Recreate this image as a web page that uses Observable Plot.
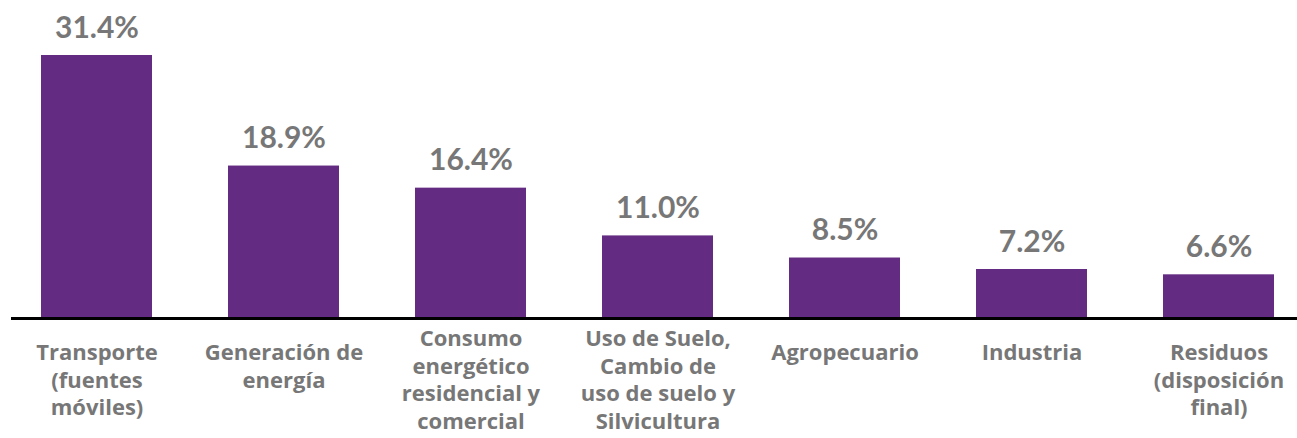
<!DOCTYPE html>
<html>
<head>
<meta charset="utf-8">
<script src="https://cdn.jsdelivr.net/npm/d3@7"></script>
<script src="https://cdn.jsdelivr.net/npm/@observablehq/plot@0.6"></script>
<style>
  html, body { margin: 0; padding: 0; background: #ffffff; }
  #chart svg { display: block; }
</style>
</head>
<body>
<div id="chart"></div>
<script>
const categories = ["Transporte", "Generación", "Consumo", "Uso de Suelo", "Agropecuario", "Industria", "Residuos"];
const values = [31.4, 18.9, 16.4, 11.0, 8.5, 7.2, 6.6];
const tickLabels = [
  "Transporte\n(fuentes\nmóviles)",
  "Generación de\nenergía",
  "Consumo\nenergético\nresidencial y\ncomercial",
  "Uso de Suelo,\nCambio de\nuso de suelo y\nSilvicultura",
  "Agropecuario",
  "Industria",
  "Residuos\n(disposición\nfinal)"
];
// lower bound of the value axis as drawn in the original (bars do not start at 0)
const yFloor = 1.66;

const data = categories.map((c, i) => ({
  cat: c, value: values[i], label: tickLabels[i],
  lines: tickLabels[i].split("\n").length
}));

const purple = "#632c82";
const grey = "#777777";

const chart = Plot.plot({
  width: 1297,
  height: 438,
  marginTop: 55,
  marginBottom: 120,
  marginLeft: 11,
  marginRight: 0,
  style: { fontFamily: "Lato, sans-serif", background: "#ffffff" },
  x: { domain: categories, paddingInner: 0.408, paddingOuter: 0.1315, align: 0.568, axis: null },
  y: { domain: [yFloor, d3.max(values)], axis: null, clamp: true },
  marks: [
    Plot.barY(data, { x: "cat", y1: yFloor, y2: "value", fill: purple }),
    Plot.ruleY([yFloor], { stroke: "#000000", strokeWidth: 3 }),
    Plot.text(data, {
      x: "cat", y: "value",
      text: d => d3.format(".1f")(d.value) + "%",
      lineAnchor: "bottom", dy: -18,
      fontSize: 30, fontWeight: "bold", fill: grey
    }),
    Plot.text(data.filter(d => d.lines < 4), {
      x: "cat", y: yFloor, text: "label",
      lineAnchor: "top", dy: 22, lineHeight: 1.25,
      fontFamily: "'Open Sans', sans-serif",
      fontSize: 22, fontWeight: "bold", fill: grey
    }),
    Plot.text(data.filter(d => d.lines >= 4), {
      x: "cat", y: yFloor, text: "label",
      lineAnchor: "top", dy: 8, lineHeight: 1.25,
      fontFamily: "'Open Sans', sans-serif",
      fontSize: 22, fontWeight: "bold", fill: grey
    })
  ]
});
document.getElementById("chart").appendChild(chart);
</script>
</body>
</html>
